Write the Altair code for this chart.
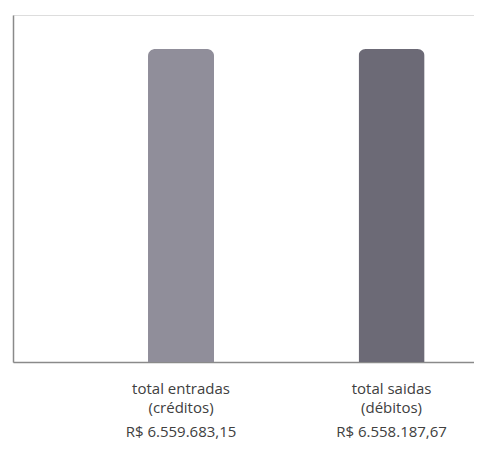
import altair as alt
import pandas as pd

cats = ["total entradas (créditos)", "total saidas (débitos)"]
line1 = ["total entradas", "total saidas"]
line2 = ["(créditos)", "(débitos)"]
values = [6559683.15, 6558187.67]
value_text = ["R$ 6.559.683,15", "R$ 6.558.187,67"]
colors = ["#908e9a", "#6c6a76"]

df = pd.DataFrame({"cat": cats, "line1": line1, "line2": line2,
                   "value": values, "vtext": value_text})

W, H = 461, 347

xenc = alt.X("cat:N", sort=cats,
             scale=alt.Scale(paddingInner=0.6865, paddingOuter=0.438, align=0.732),
             axis=alt.Axis(labels=False, ticks=False, title=None, grid=False,
                           domainColor="#8a8a8a", domainWidth=1.5))

bars = alt.Chart(df).mark_bar(cornerRadiusTopLeft=7, cornerRadiusTopRight=7).encode(
    x=xenc,
    y=alt.Y("value:Q", scale=alt.Scale(domain=[0, 7272000], nice=False),
            axis=alt.Axis(labels=False, ticks=False, title=None, grid=False,
                          domainColor="#8a8a8a", domainWidth=1.5)),
    color=alt.Color("cat:N", scale=alt.Scale(domain=cats, range=colors), legend=None),
)

def txt(field, ypos):
    return alt.Chart(df).mark_text(font="Open Sans", fontSize=15, color="#404040",
                                   baseline="middle", align="center").encode(
        x=alt.X("cat:N", sort=cats),
        y=alt.value(ypos),
        text=f"{field}:N",
    )

chart = alt.layer(bars, txt("line1", 374), txt("line2", 393), txt("vtext", 417)).properties(
    width=W, height=H,
    padding={"left": 5, "top": 7, "right": 0, "bottom": 82},
    autosize=alt.AutoSizeParams(type="none"),
).configure_view(stroke=None).configure(background="white")

chart.save("out.html", embed_options={"renderer": "svg", "actions": False})
